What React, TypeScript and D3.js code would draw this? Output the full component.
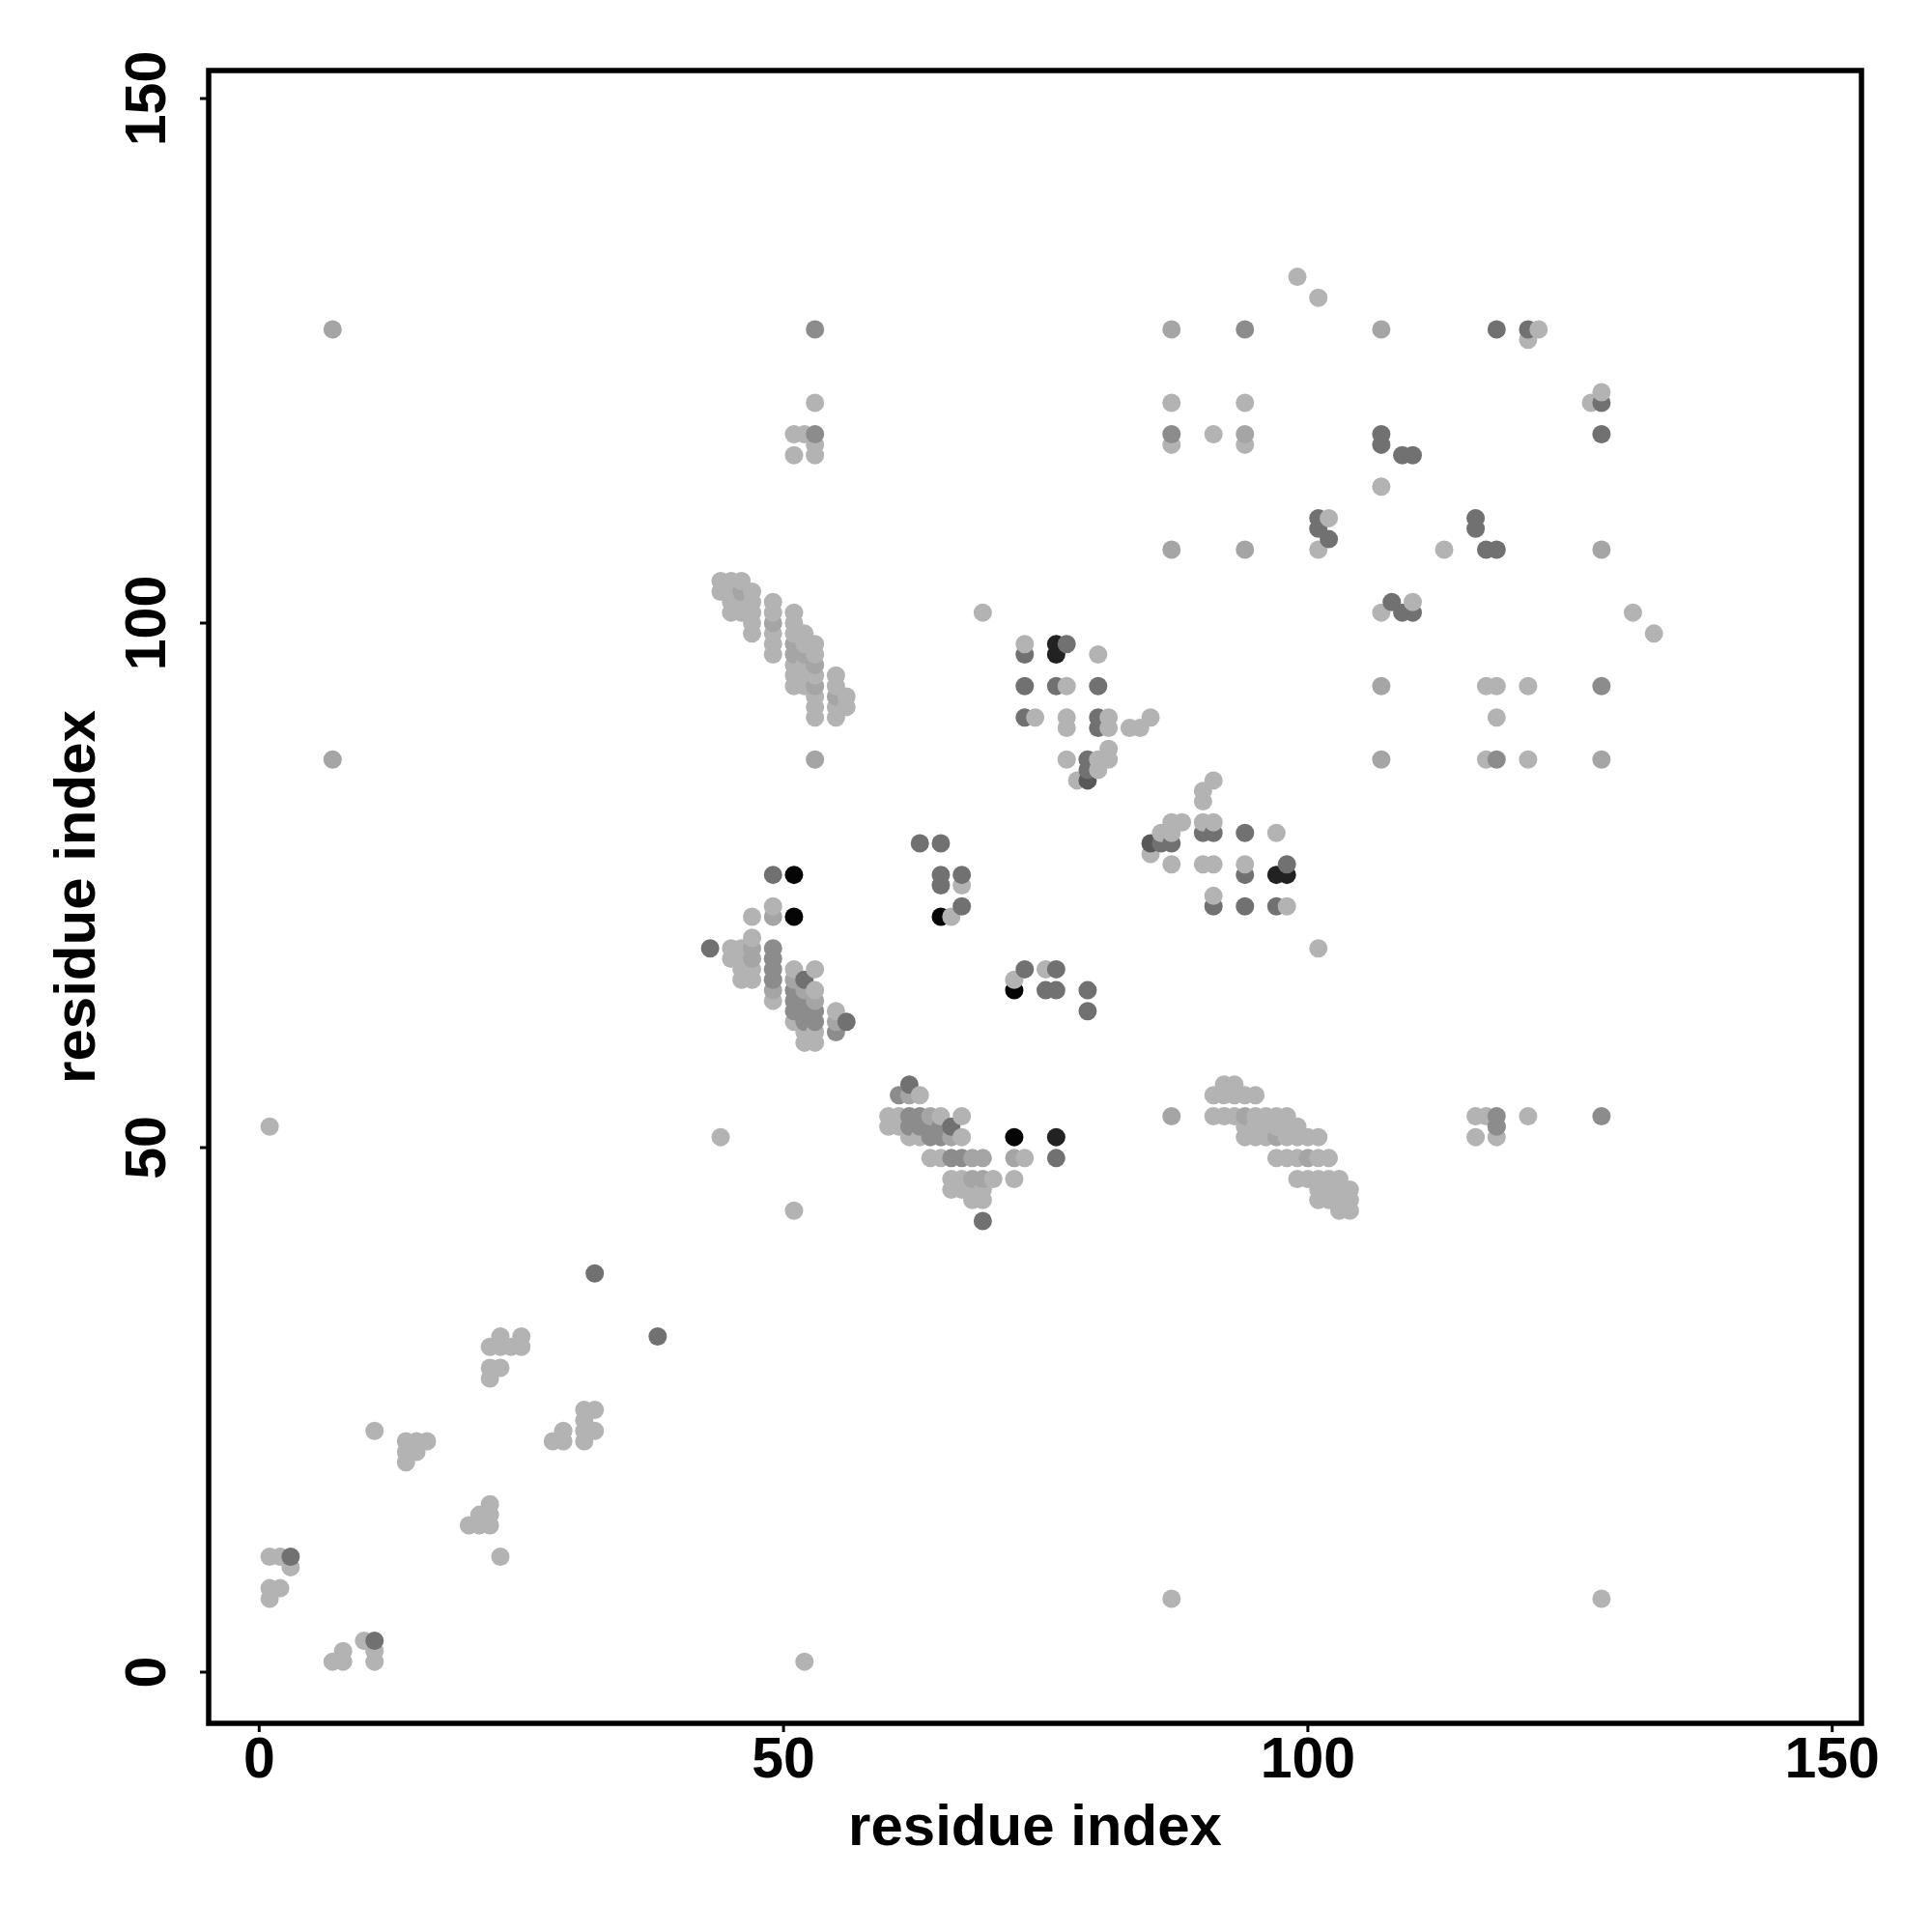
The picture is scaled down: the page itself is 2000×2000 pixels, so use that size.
import React from "react";
import * as d3 from "d3";

type P = [number, number];

const axisTicks = [0, 50, 100, 150];
const axisTitle = "residue index";

const lightPoints: P[] = [
  [44,104],[44,103],[45,104],[45,103],[45,102],[45,101],[46,104],[46,102],[46,101],
  [47,103],[47,102],[47,101],[47,100],[47,99],[49,102],[49,101],[49,99],[49,98],[49,97],
  [51,101],[51,100],[51,99],[51,96],[51,95],[51,94],[52,99],[52,98],[52,96],[52,95],[52,94],
  [53,98],[53,97],[53,95],[53,93],[53,92],[53,91],[55,95],[55,94],[55,92],[55,91],[56,93],[56,92],
  [47,72],[49,73],[47,70],[45,69],[45,68],[46,69],[46,68],[46,67],[46,66],[47,67],[47,66],[49,64],
  [51,67],[51,62],[52,61],[52,60],[53,67],[53,65],[53,61],[53,60],[55,63],
  [60,53],[61,53],[63,55],[65,53],[60,52],[61,52],[62,51],[63,51],[67,53],[67,51],
  [64,49],[65,49],[66,47],[67,47],[70,47],[66,46],[67,46],[68,46],[69,46],[68,45],[69,45],
  [72,47],[73,49],[91,55],[92,56],[93,56],[92,55],[93,55],[94,55],[95,55],
  [91,53],[92,53],[93,53],[95,53],[96,53],[97,53],[98,53],
  [94,52],[95,52],[96,52],[97,52],[98,52],[99,52],[94,51],[95,51],[96,51],[98,51],[99,51],[100,51],[101,51],
  [97,49],[98,49],[99,49],[101,49],[102,49],[99,47],[100,47],[101,47],[102,47],[103,47],
  [101,46],[102,46],[103,46],[104,46],[101,45],[102,45],[103,45],[104,45],[103,44],[104,44],
  [116,53],[117,53],[121,53],[116,51],[118,51],[118,52],[101,69],
  [99,133],[101,131],[122,128],[121,127],[53,121],[87,121],[94,121],[127,121],[128,122],
  [51,118],[52,118],[51,116],[53,116],[53,117],[87,117],[91,118],[94,117],[107,113],
  [102,110],[101,107],[113,107],[110,102],[107,101],[131,101],[133,99],[69,101],
  [73,98],[80,97],[77,94],[74,91],[77,91],[77,90],[81,91],[81,90],[83,90],[84,90],[85,91],
  [81,88],[81,87],[80,87],[80,86],[77,87],[78,85],[117,94],[118,94],[121,94],[118,91],[117,87],[121,87],
  [91,85],[90,84],[90,83],[87,81],[88,81],[86,80],[87,80],[90,81],[91,81],[97,80],[85,78],[87,77],
  [90,77],[91,77],[94,77],[91,74],[98,73],[67,75],[66,72],[72,66],[75,67],
  [22,31],[23,32],[23,31],[24,31],[25,32],[25,31],[22,29],[23,29],[22,28],
  [31,25],[32,25],[31,24],[31,23],[32,23],[29,23],[28,22],[29,22],[31,22],
  [11,23],[14,22],[15,22],[16,22],[14,21],[15,21],[14,20],
  [22,16],[22,15],[21,15],[21,14],[20,14],[22,14],[23,11],
  [1,11],[2,11],[3,10],[1,8],[2,8],[1,7],[7,1],[8,1],[8,2],[10,3],[11,2],[11,1],
  [51,44],[44,51],[1,52],[52,1],[87,7],[128,7],
];

const softPoints: P[] = [
  [46,103],[49,100],[51,98],[51,97],[52,97],[53,96],[53,94],[55,93],[53,87],[7,87],[7,128],
  [47,69],[47,68],[49,72],[49,65],[51,66],[52,65],[53,64],[55,62],
  [62,55],[64,53],[68,49],[69,49],[68,47],[69,47],[66,51],[72,49],
  [94,53],[97,51],[100,49],[87,128],[107,128],[94,118],[87,107],[94,107],[128,107],
  [107,94],[107,87],[128,87],[87,53],
];

const midPoints: P[] = [
  [49,69],[49,68],[49,67],[49,66],[51,65],[51,63],[52,64],[52,63],[52,62],[53,63],[53,62],[55,61],
  [61,55],[62,53],[63,53],[62,52],[63,52],[64,52],[65,52],[64,51],[65,51],[66,49],[67,49],
  [53,128],[94,128],[53,118],[87,118],[128,94],[118,87],[118,52],[128,53],[118,53],[51,64],
];

const darkPoints: P[] = [
  [43,69],[52,66],[56,62],[62,56],[66,52],[76,49],[69,43],[32,38],[38,32],[3,11],[11,3],
  [118,128],[121,128],[128,121],[128,118],[107,118],[107,117],[109,116],[110,116],
  [101,110],[101,109],[102,108],[116,110],[116,109],[117,107],[118,107],
  [108,102],[109,101],[110,101],[73,97],[77,98],[73,94],[76,94],[80,94],[73,91],[80,91],[80,90],
  [79,87],[79,86],[90,80],[91,80],[94,80],[86,79],[87,79],[94,76],[98,77],[91,73],[94,73],[97,73],
  [49,76],[63,79],[65,79],[65,76],[65,75],[67,76],[67,73],[73,67],[76,67],[75,65],[76,65],[79,65],[79,63],
];

const deepPoints: P[] = [[79,85],[85,79]];
const nearBlackPoints: P[] = [[76,98],[76,97],[97,76],[98,76],[76,51]];
const blackPoints: P[] = [[51,76],[51,72],[65,72],[72,65],[72,51]];

const groups: { pts: P[]; fill: string }[] = [
  { pts: lightPoints, fill: "#b3b3b3" },
  { pts: softPoints, fill: "#a5a5a5" },
  { pts: midPoints, fill: "#8c8c8c" },
  { pts: darkPoints, fill: "#717171" },
  { pts: deepPoints, fill: "#585858" },
  { pts: nearBlackPoints, fill: "#222222" },
  { pts: blackPoints, fill: "#050505" },
];

const WIDTH = 2000;
const HEIGHT = 2000;
const box = { left: 216, right: 1927, top: 73, bottom: 1784 };
const font = "'Liberation Sans', Arial, sans-serif";

export default function App() {
  const x = d3.scaleLinear().domain([0, 150]).range([268.3, 1896.7]);
  const y = d3.scaleLinear().domain([0, 150]).range([1731, 102]);
  const marks = groups
    .flatMap((g) => g.pts.map((p) => ({ px: p[0], py: p[1], fill: g.fill })))
    .sort((a, b) => d3.ascending(a.px, b.px) || d3.ascending(a.py, b.py));
  const cx = (box.left + box.right) / 2;
  const cy = (box.top + box.bottom) / 2;
  return (
    <svg
      width={WIDTH}
      height={HEIGHT}
      viewBox={`0 0 ${WIDTH} ${HEIGHT}`}
      style={{ position: "absolute", left: 0, top: 0, display: "block", background: "#fff" }}
    >
      {marks.map((m, i) => (
        <circle key={i} cx={x(m.px)} cy={y(m.py)} r={9.5} fill={m.fill} />
      ))}
      <rect
        x={box.left}
        y={box.top}
        width={box.right - box.left}
        height={box.bottom - box.top}
        fill="none"
        stroke="#000"
        strokeWidth={5.5}
      />
      {axisTicks.map((t) => (
        <g key={t}>
          <line x1={x(t)} x2={x(t)} y1={box.bottom} y2={box.bottom + 9} stroke="#000" strokeWidth={3} />
          <text x={x(t)} y={1840} textAnchor="middle" fontFamily={font} fontWeight={700} fontSize={59} fill="#000">
            {t}
          </text>
          <line x1={box.left} x2={box.left - 9} y1={y(t)} y2={y(t)} stroke="#000" strokeWidth={3} />
          <text
            transform={`translate(171,${y(t)}) rotate(-90)`}
            textAnchor="middle"
            fontFamily={font}
            fontWeight={700}
            fontSize={59}
            fill="#000"
          >
            {t}
          </text>
        </g>
      ))}
      <text x={cx} y={1910} textAnchor="middle" fontFamily={font} fontWeight={700} fontSize={60} fill="#000">
        {axisTitle}
      </text>
      <text
        transform={`translate(98,${cy}) rotate(-90)`}
        textAnchor="middle"
        fontFamily={font}
        fontWeight={700}
        fontSize={60}
        fill="#000"
      >
        {axisTitle}
      </text>
    </svg>
  );
}
